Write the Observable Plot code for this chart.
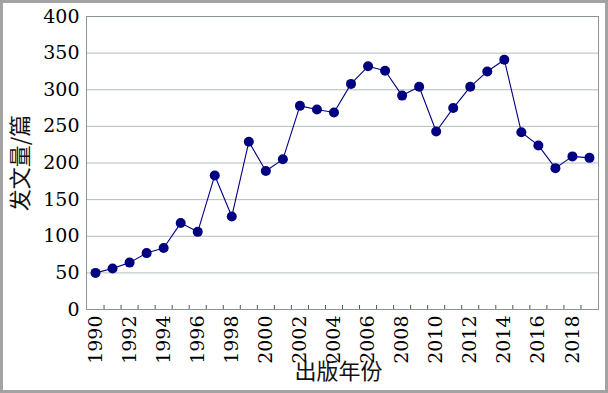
<!DOCTYPE html>
<html>
<head>
<meta charset="utf-8">
<script src="https://cdn.jsdelivr.net/npm/d3@7"></script>
<script src="https://cdn.jsdelivr.net/npm/@observablehq/plot@0.6"></script>
<style>
  html, body { margin: 0; padding: 0; background: #fff; }
  #wrap { position: relative; width: 608px; height: 393px; overflow: hidden; }
  #border { position: absolute; left: 0; top: 0; width: 608px; height: 393px; box-sizing: border-box; border: 3px solid #a3a3a3; pointer-events: none; }
  svg { display: block; }
</style>
</head>
<body>
<div id="wrap"><div id="border"></div></div>
<script>
const years = [1990,1991,1992,1993,1994,1995,1996,1997,1998,1999,2000,2001,2002,2003,2004,2005,2006,2007,2008,2009,2010,2011,2012,2013,2014,2015,2016,2017,2018,2019];
const counts = [50,56,64,77,84,118,106,183,127,229,189,205,278,273,269,308,332,326,292,304,243,275,304,325,341,242,224,193,209,207];
const yTicks = [0,50,100,150,200,250,300,350,400];
const xLabelYears = [1990,1992,1994,1996,1998,2000,2002,2004,2006,2008,2010,2012,2014,2016,2018];
const xTickMarks = years.slice(0, -1).map(y => y + 0.5);
const yLabel = "发文量/篇";
const xLabel = "出版年份";

const data = years.map((y, i) => ({year: y, count: counts[i]}));
const navy = "#000080";
const serif = "DejaVu Serif";
const cjk = "Noto Sans CJK SC";

const chart = Plot.plot({
  width: 608,
  height: 393,
  marginLeft: 86,
  marginRight: 10,
  marginTop: 16,
  marginBottom: 84,
  style: {fontSize: "19px", color: "#000", background: "transparent"},
  x: {domain: [1989.47, 2019.53]},
  y: {domain: [0, 400]},
  marks: [
    Plot.gridY(yTicks, {stroke: "#b4bcbc", strokeOpacity: 1}),
    Plot.frame({stroke: "#8c9696"}),
    Plot.axisY(yTicks, {tickSize: 0, tickPadding: 7, label: null, fontSize: 19, fontFamily: serif}),
    Plot.axisX(xTickMarks, {tickSize: -4, text: null, label: null, stroke: "#555"}),
    Plot.axisX(xLabelYears, {tickSize: 0, tickPadding: 6, tickRotate: -90, tickFormat: d => String(d), label: null, fontSize: 19, fontFamily: serif}),
    Plot.line(data, {x: "year", y: "count", stroke: navy, strokeWidth: 1.1}),
    Plot.dot(data, {x: "year", y: "count", r: 5, fill: navy, stroke: "none"}),
    Plot.text([yLabel], {text: d => d, frameAnchor: "left", textAnchor: "middle", rotate: -90, dx: -66, fontFamily: cjk, fontSize: 22, fill: "#111"}),
    Plot.text([xLabel], {text: d => d, frameAnchor: "bottom", dy: 69, dx: -4, fontFamily: cjk, fontSize: 22, fill: "#111"})
  ]
});
document.getElementById("wrap").insertBefore(chart, document.getElementById("border"));
</script>
</body>
</html>
